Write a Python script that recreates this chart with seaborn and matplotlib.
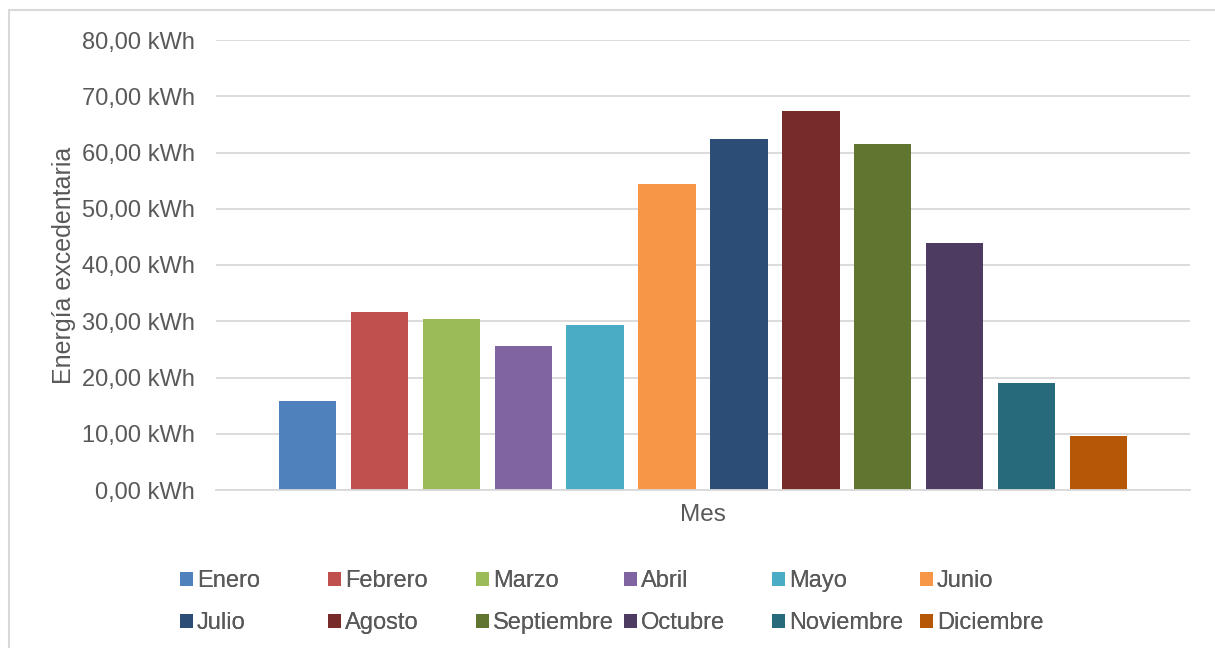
import matplotlib
matplotlib.use("Agg")
import matplotlib.pyplot as plt
from matplotlib.patches import Rectangle
import seaborn as sns
import pandas as pd

# Monthly surplus energy (kWh)
meses = ["Enero", "Febrero", "Marzo", "Abril", "Mayo", "Junio",
         "Julio", "Agosto", "Septiembre", "Octubre", "Noviembre", "Diciembre"]
energia = [15.8, 31.6, 30.4, 25.6, 29.3, 54.4,
           62.4, 67.3, 61.6, 44.0, 19.0, 9.6]
colores = ["#4F81BD", "#C0504D", "#9BBB59", "#8064A2", "#4BACC6", "#F79646",
           "#2C4D75", "#772C2A", "#5F7530", "#4D3B62", "#276A7C", "#B65708"]
categoria = "Mes"
y_ticks = [0, 10, 20, 30, 40, 50, 60, 70, 80]

df = pd.DataFrame({"categoria": [categoria] * len(meses),
                   "mes": meses, "energia": energia})

sns.set_theme(style="white")
plt.rcParams["font.family"] = ["Liberation Sans", "DejaVu Sans"]
TXT = "#595959"
GRID = "#D9D9D9"

W, H = 1215, 648
fig = plt.figure(figsize=(W / 100, H / 100), dpi=100)
ax = fig.add_axes([216 / W, 1 - 490 / H, (1190 - 216) / W, (490 - 40) / H])

sns.barplot(data=df, x="categoria", y="energia", hue="mes",
            hue_order=meses, palette=colores, saturation=1,
            width=0.887, gap=0.208, linewidth=0, ax=ax)

ax.set_xlim(-0.5, 0.5)
ax.set_ylim(0, 80)
ax.set_yticks(y_ticks)
ax.set_yticklabels([f"{v:.2f}".replace(".", ",") + " kWh" for v in y_ticks])
ax.yaxis.grid(True, color=GRID, linewidth=1.3)
ax.set_axisbelow(True)
for s in ["top", "right", "left"]:
    ax.spines[s].set_visible(False)
ax.spines["bottom"].set_color(GRID)
ax.spines["bottom"].set_linewidth(1.3)
ax.tick_params(axis="y", length=0, pad=15, labelsize=17, labelcolor=TXT)
ax.tick_params(axis="x", length=0, pad=10, labelsize=17.5, labelcolor=TXT)
ax.set_xlabel("")
ax.set_ylabel("Energía excedentaria", fontsize=18, color=TXT)
ax.yaxis.set_label_coords(-0.144, 0.5)

handles, labels = ax.get_legend_handles_labels()
ax.get_legend().remove()

# Legend: 6 equal-width columns, 2 rows
ncol = 6
for i in range(ncol):
    idx = [i, i + ncol]
    leg = fig.legend([handles[j] for j in idx], [labels[j] for j in idx],
                     loc="upper left",
                     bbox_to_anchor=((180 + 148 * i) / W, 1 - 570 / H),
                     frameon=False, borderpad=0, borderaxespad=0,
                     handlelength=0.53, handleheight=0.53, handletextpad=0.18,
                     labelspacing=0.85, fontsize=17, labelcolor=TXT)
    fig.add_artist(leg)

# Light outer frame
fig.add_artist(Rectangle((9 / W, -0.1), 1.2, 1 - 10 / H + 0.1,
                         transform=fig.transFigure, fill=False,
                         edgecolor=GRID, linewidth=1.5))

fig.savefig("out.png", dpi=100)
